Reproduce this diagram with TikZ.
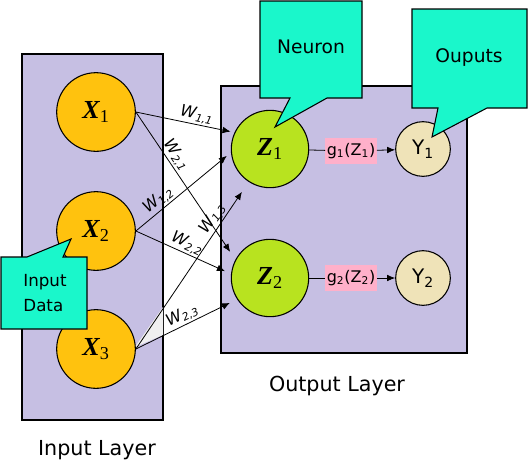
\documentclass[tikz,border=0pt]{standalone}
\usepackage{fontspec}
\setmainfont{DejaVu Sans}
\newfontfamily\timesfnt{Liberation Serif}
\usetikzlibrary{arrows.meta}
\definecolor{layerlila}{HTML}{C6BFE3}
\definecolor{xorange}{HTML}{FFC20E}
\definecolor{zgreen}{HTML}{B8E31F}
\definecolor{ybeige}{HTML}{EFE3B8}
\definecolor{calloutcyan}{HTML}{1AF7CB}
\definecolor{gpink}{HTML}{FFB0CA}
\tikzset{
	layer/.style={draw,line width=1.3pt,fill=layerlila},
	xnode/.style={circle,draw,line width=.8pt,fill=xorange,minimum size=59pt,inner sep=0pt,font=\timesfnt\fontsize{19.5}{22}\selectfont},
	znode/.style={xnode,fill=zgreen,minimum size=58pt},
	ynode/.style={circle,draw,line width=.8pt,fill=ybeige,minimum size=41pt,inner sep=0pt,font=\fontsize{15}{18}\selectfont},
	gbox/.style={fill=gpink,minimum width=38pt,minimum height=19pt,inner sep=1pt,font=\fontsize{12}{14}\selectfont},
	callout/.style={draw,line width=.8pt,fill=calloutcyan},
	wlink/.style={->,line width=.6pt},
	wlab/.style={sloped,above,inner sep=1pt,font=\itshape\fontsize{12}{14}\selectfont},
	layername/.style={font=\fontsize{15.5}{18}\selectfont},
}
\begin{document}
\begin{tikzpicture}[x=.75pt,y=-.75pt,>={Latex[length=6pt,width=5pt]}]
	\useasboundingbox (0,0) rectangle (528,462);
	\draw[layer] (22,54) rectangle (163,420);
	\draw[layer] (221,86) rectangle (467,353);
	\fill[gray!12] (135,347) -- (163,307) -- (163,335) -- cycle;

	\node[xnode] (x1) at (96,112) {{\bfseries\itshape X}\textsubscript{1}};
	\node[xnode] (x2) at (96,231) {{\bfseries\itshape X}\textsubscript{2}};
	\node[xnode] (x3) at (96,349) {{\bfseries\itshape X}\textsubscript{3}};
	\node[znode] (z1) at (270,149) {{\bfseries\itshape Z}\textsubscript{1}};
	\node[znode] (z2) at (270,278) {{\bfseries\itshape Z}\textsubscript{2}};
	\node[gbox] (g1) at (351,151) {g\textsubscript{1}(Z\textsubscript{1})};
	\node[gbox] (g2) at (351,278) {g\textsubscript{2}(Z\textsubscript{2})};
	\node[ynode] (y1) at (423,149) {Y\textsubscript{1}};
	\node[ynode] (y2) at (423,278) {Y\textsubscript{2}};

	\draw[wlink,shorten >=3pt] (x1.east) -- (z1.155) node[wlab,pos=.6]{W\textsubscript{1,1}};
	\draw[wlink,shorten >=7pt] (x1.east) -- (z2.152) node[wlab,pos=.33]{W\textsubscript{2,1}};
	\draw[wlink,shorten >=4pt] (x2.east) -- (z1.185) node[wlab,pos=.3]{W\textsubscript{1,2}};
	\draw[wlink,shorten >=5pt] (x2.east) -- (z2.174) node[wlab,pos=.5]{W\textsubscript{2,2}};
	\draw[wlink,shorten >=9pt] (x3.east) -- (z1.237) node[wlab,pos=.75]{W\textsubscript{1,3}};
	\draw[wlink,shorten >=6pt] (x3.east) -- (z2.213) node[wlab,pos=.5]{W\textsubscript{2,3}};
	\draw[line width=.6pt] (z1) -- (g1);
	\draw[wlink] (g1) -- (y1);
	\draw[line width=.6pt] (z2) -- (g2);
	\draw[wlink] (g2) -- (y2);

	\draw[callout] (260,1) -- (362,1) -- (362,98) -- (327,98) -- (275,127) -- (290,98) -- (260,98) -- cycle;
	\node[font=\fontsize{14}{16}\selectfont] (neuron) at (311,47) {Neuron};
	\draw[callout] (412,9) -- (527,9) -- (527,108) -- (487,108) -- (432,137) -- (438,108) -- (412,108) -- cycle;
	\node[font=\fontsize{14}{16}\selectfont] (ouputs) at (469,58) {Ouputs};
	\draw[callout] (1,257) -- (27,257) -- (71,239) -- (63,257) -- (87,257) -- (87,329) -- (1,329) -- cycle;
	\node[align=left,font=\fontsize{12.5}{19}\selectfont] (inputdata) at (45,293) {Input\\Data};

	\node[layername] (inlabel) at (97,450) {Input Layer};
	\node[layername] (outlabel) at (337,386) {Output Layer};
\end{tikzpicture}
\end{document}
